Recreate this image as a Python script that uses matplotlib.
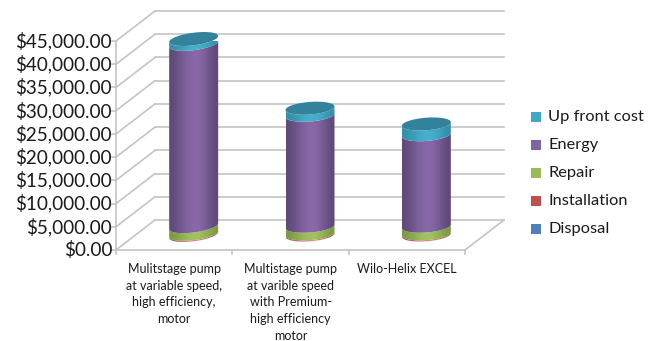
import numpy as np
import matplotlib.pyplot as plt
from matplotlib.colors import LinearSegmentedColormap
from matplotlib.patches import Polygon, Rectangle

plt.rcParams['font.family'] = ['Lato', 'DejaVu Sans']

categories = ["Mulitstage pump\nat variable speed,\nhigh efficiency,\nmotor",
              "Multistage pump\nat varible speed\nwith Premium-\nhigh efficiency\nmotor",
              "Wilo-Helix EXCEL"]
disposal = [30, 30, 30]
installation = [220, 220, 220]
repair = [1650, 1650, 1650]
energy = [39250, 23900, 19700]
up_front = [1050, 1500, 2300]

series_names = ["Disposal", "Installation", "Repair", "Energy", "Up front cost"]
series = [disposal, installation, repair, energy, up_front]
series_colors = ["#4f81bd", "#c0504d", "#9bbb59", "#8064a2", "#3fa8c8"]
edge_colors = ["#3a5f8c", "#a84a47", "#7c9a44", "#5f4a7a", "#3490ab"]
light_colors = ["#5f93d0", "#e0807c", "#a4c560", "#8b6aaa", "#46b2d0"]
top_color = "#33829c"

y_ticks = list(range(0, 50000, 5000))
tilts = [3.0, 1.8, 1.8]

fig = plt.figure(figsize=(6.6, 3.41), dpi=100)
ax = fig.add_axes([116 / 660, 1 - 250 / 341, 349 / 660, 209 / 341])
ax.set_xlim(0, 3)
ax.set_ylim(0, 45000)
ax.axis('off')

# one screen pixel in data units
px_x = 3 / 349
px_y = 45000 / 209
# how far the back wall sits from the front plane
depth_x = 39 * px_x
depth_y = 30 * px_y

grid = "#c4c4c4"
for t in y_ticks:
    ax.plot([0, depth_x], [t, t + depth_y], color=grid, lw=1.2, clip_on=False, zorder=1)
    ax.plot([depth_x, 3 + depth_x], [t + depth_y, t + depth_y], color=grid, lw=1.2, clip_on=False, zorder=1)
    ax.plot([-4 * px_x, 0], [t, t], color=grid, lw=1.2, clip_on=False, zorder=1)
    ax.text(-4 * px_x, t, "${:,.2f}".format(t), ha='right', va='center', fontsize=13.6, color="#1a1a1a", clip_on=False)

ax.plot([0, 0], [0, 45000], color=grid, lw=1.2, clip_on=False, zorder=1)
ax.plot([0, 3], [0, 0], color=grid, lw=1.2, clip_on=False, zorder=1)
ax.plot([3, 3 + depth_x], [0, depth_y], color=grid, lw=1.2, clip_on=False, zorder=1)
for i in range(4):
    ax.plot([i, i], [0, -4 * px_y], color=grid, lw=1.2, clip_on=False, zorder=1)

half_w = 24.5 * px_x
half_h = 6.3 * px_y
gradient = np.array([[0, .12, .28, .45, .65, .8, .9, .95, .9, .75, .55, .35, .12, 0]])


def rim(cx, cy, tilt, start, stop):
    a = np.linspace(start, stop, 60)
    xs = cx + half_w * np.cos(a)
    ys = cy + half_h * np.sin(a) + tilt * px_y * np.cos(a)
    return np.column_stack([xs, ys])


for i in range(len(categories)):
    cx = i + 0.5 + depth_x / 2
    base = depth_y / 2
    for j in range(len(series)):
        value = series[j][i]
        lower = rim(cx, base, tilts[i], np.pi, 2 * np.pi)
        upper = rim(cx, base + value, tilts[i], 2 * np.pi, np.pi)
        poly = Polygon(np.vstack([lower, upper]), closed=True, transform=ax.transData,
                       fc='none', ec='none')
        ax.add_patch(poly)
        cmap = LinearSegmentedColormap.from_list("side" + str(j), [edge_colors[j], light_colors[j]])
        im = ax.imshow(gradient, cmap=cmap, vmin=0, vmax=1, aspect='auto', interpolation='bilinear',
                       extent=[cx - half_w, cx + half_w, base - 2 * half_h, base + value + 2 * half_h],
                       zorder=3 + j * 0.1)
        im.set_clip_path(poly)
        base += value
    top = rim(cx, base, tilts[i], 0, 2 * np.pi)
    ax.add_patch(Polygon(top, closed=True, fc=top_color, ec='none', zorder=4, clip_on=False))
    ax.text(i + 0.5, -13 * px_y, categories[i], ha='center', va='top', fontsize=9.0,
            linespacing=1.47, color="#1a1a1a", clip_on=False)

ax.set_xlim(0, 3)
ax.set_ylim(0, 45000)

# legend, newest series on top
for k in range(len(series_names)):
    y_pix = 229 - 28 * k
    fig.add_artist(Rectangle((531 / 660, 1 - (y_pix + 5) / 341), 10 / 660, 10 / 341,
                             transform=fig.transFigure, fc=series_colors[k], ec='none'))
    fig.text(548 / 660, 1 - y_pix / 341, series_names[k], ha='left', va='center',
             fontsize=11.8, color="#1a1a1a")

fig.savefig("out.png", dpi=100)
